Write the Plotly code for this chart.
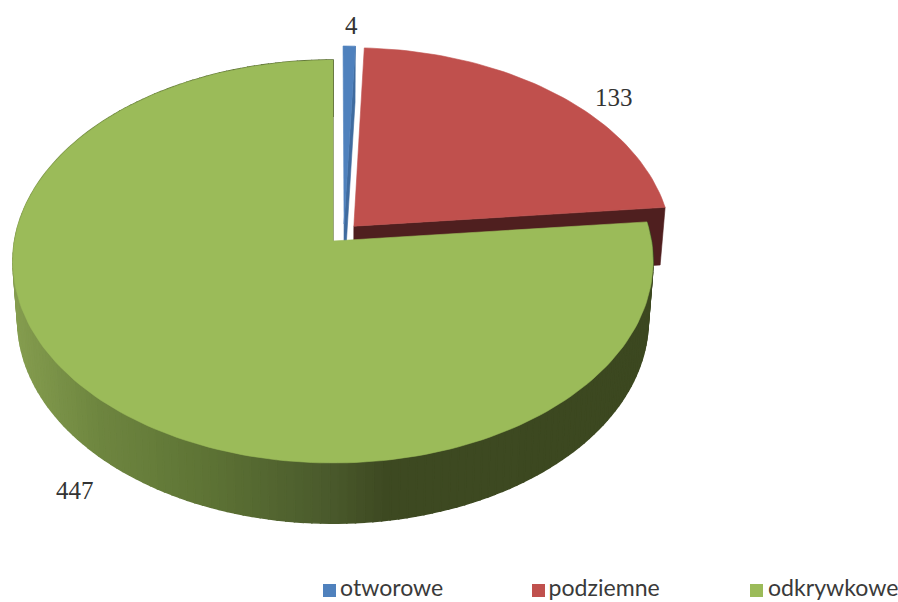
import numpy as np
import plotly.graph_objects as go

categories = ["otworowe", "podziemne", "odkrywkowe"]
values = [4, 133, 447]
top_colors = ["#4F81BD", "#C0504D", "#9BBB59"]
cut_colors = ["#3F6B9F", "#4F1F1F", "#3C4820"]
# slice explosion, in units of the pie radius (right, back)
explode_u = [0.035, 0.066, 0.0]
explode_v = [0.086, 0.075, 0.0]

# view of the tilted pie, in pixels of the axes
CX, CY = 333.0, 241.0
A, B, K = 318.4, 199.4, 0.1017
DEPTH, SX2, SY2 = 58.0, 0.985, 1.01

# wall shading along x
shade_x = [12, 100, 200, 330, 385, 660]
shade_r = [134, 110, 95, 74, 62, 60]
shade_g = [158, 134, 117, 90, 74, 72]
shade_b = [80, 64, 54, 44, 34, 32]


def project(u, v, lower=False):
    d = 1 + K * v
    if lower:
        return CX + SX2 * A * u / d, CY + DEPTH - SY2 * B * v / d
    return CX + A * u / d, CY - B * v / d


def poly(xs, ys, color, width=0.6):
    return go.Scatter(
        x=xs, y=ys, mode="lines", fill="toself", fillcolor=color,
        line=dict(color=color, width=width), hoverinfo="skip", showlegend=False,
    )


fig = go.Figure()
total = sum(values)
edges = np.cumsum([0] + values) / total * 2 * np.pi
# back to front: otworowe, podziemne, odkrywkowe
for i in range(3):
    t0, t1 = edges[i], edges[i + 1]
    du, dv = explode_u[i], explode_v[i]
    n = max(6, int((t1 - t0) * 40))
    th = np.linspace(t0, t1, n + 1)
    u = du + np.sin(th)
    v = dv + np.cos(th)

    # outer wall, one shaded strip per step (only the front slice shows it)
    if i == 2:
        for j in range(n):
            tx0, ty0 = project(u[j:j + 2], v[j:j + 2])
            bx0, by0 = project(u[j:j + 2], v[j:j + 2], lower=True)
            xs = list(tx0) + list(bx0[::-1]) + [tx0[0]]
            ys = list(ty0) + list(by0[::-1]) + [ty0[0]]
            mid = float(np.mean(xs))
            c = "rgb(%d,%d,%d)" % (
                np.interp(mid, shade_x, shade_r),
                np.interp(mid, shade_x, shade_g),
                np.interp(mid, shade_x, shade_b),
            )
            fig.add_trace(poly(xs, ys, c, width=1.6))

    # cut face on the end edge
    ax, ay = project(np.array([du]), np.array([dv]))
    abx, aby = project(np.array([du]), np.array([dv]), lower=True)
    rx, ry = project(u[-1:], v[-1:])
    rbx, rby = project(u[-1:], v[-1:], lower=True)
    fig.add_trace(poly(
        [ax[0], rx[0], rbx[0], abx[0], ax[0]],
        [ay[0], ry[0], rby[0], aby[0], ay[0]], cut_colors[i]))

    # top face
    tx, ty = project(u, v)
    fig.add_trace(poly(
        [ax[0]] + list(tx) + [ax[0]],
        [ay[0]] + list(ty) + [ay[0]], top_colors[i]))

# legend row
legend_x = [329.5, 538.5, 756.5]
legend_y = [590.5, 590.5, 590.5]
legend_text_x = [340, 548.5, 768]
fig.add_trace(go.Scatter(
    x=legend_x, y=legend_y, mode="markers",
    marker=dict(symbol="square", size=13, color=top_colors),
    hoverinfo="skip", showlegend=False,
))
fig.add_trace(go.Scatter(
    x=legend_text_x, y=legend_y, mode="text",
    text=categories, textposition="middle right",
    textfont=dict(family="Lato", size=23.1, color="#3a3a3a"),
    hoverinfo="skip", showlegend=False,
))

# value labels
label_x = [351, 614, 75]
label_y = [25, 97, 490]
for lx, ly, val in zip(label_x, label_y, values):
    fig.add_annotation(
        x=lx, y=ly, text=str(val), showarrow=False,
        font=dict(family="Liberation Serif", size=25, color="#333333"),
    )

fig.update_layout(
    width=898, height=602, margin=dict(l=0, r=0, t=0, b=0),
    paper_bgcolor="white", plot_bgcolor="white", showlegend=False,
    xaxis=dict(range=[0, 898], visible=False, fixedrange=True),
    yaxis=dict(range=[602, 0], visible=False, fixedrange=True),
)
fig.write_html(
    "out.html",
    config={"displayModeBar": False},
    post_script="document.body.style.margin='0';document.body.style.overflow='hidden';",
)
